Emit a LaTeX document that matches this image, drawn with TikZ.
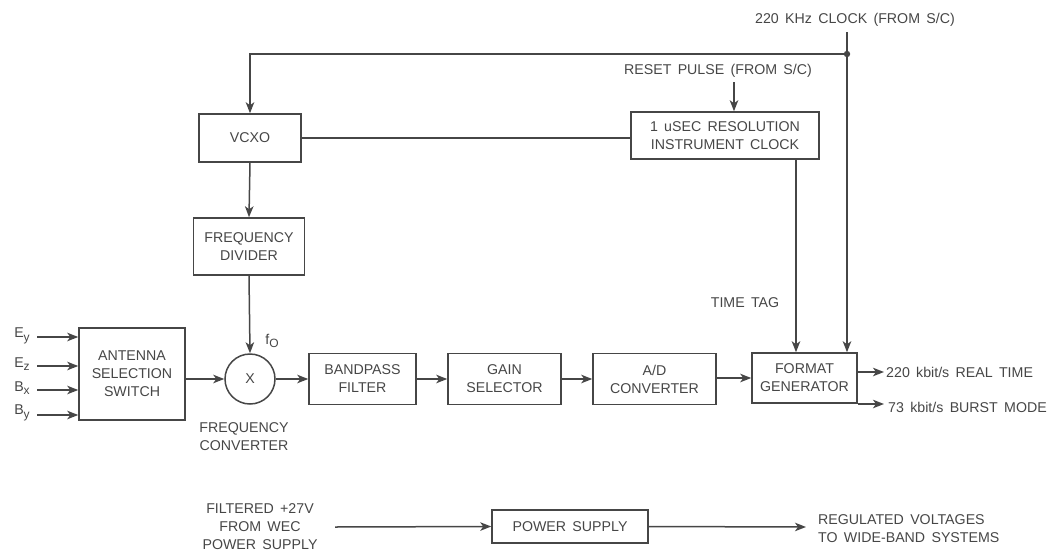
\documentclass[tikz,border=0pt]{standalone}
\usepackage{fontspec}
\setmainfont{Liberation Sans}[WordSpace=1.6]
\usetikzlibrary{arrows.meta,positioning}
\definecolor{ink}{RGB}{70,70,70}
\newcommand{\sbs}[1]{\raisebox{-0.45ex}{\fontsize{12}{12}\selectfont #1}}
\begin{document}
\begin{tikzpicture}[x=1pt,y=-1pt,
  every node/.style={text=ink,font=\fontsize{14.2}{18}\selectfont,inner sep=0pt},
  blk/.style={draw=ink,line width=1.5pt,align=center,minimum width=#1},
  lbl/.style={align=center},
  conn/.style={draw=ink,line width=1.5pt},
  arr/.style={conn,-{Stealth[length=11pt,width=8.5pt,inset=3pt]}}]
\useasboundingbox (0,0) rectangle (1047,552);

% blocks
\node[blk=102pt,minimum height=48pt] (vcxo) at (250,138) {VCXO};
\node[blk=111pt,minimum height=57pt] (fd) at (249,246.5) {FREQUENCY\\DIVIDER};
\node[blk=188pt,minimum height=47pt] (clk) at (725,135.5) {1 uSEC RESOLUTION\\INSTRUMENT CLOCK};
\node[blk=106pt,minimum height=92pt] (sw) at (132,374) {ANTENNA\\SELECTION\\SWITCH};
\node[draw=ink,line width=1.5pt,circle,minimum size=50pt] (mix) at (250,379) {X};
\node[blk=107pt,minimum height=51pt] (bpf) at (362.5,379) {BANDPASS\\FILTER};
\node[blk=113pt,minimum height=51pt] (gain) at (504.5,379) {GAIN\\SELECTOR};
\node[blk=123pt,minimum height=51pt] (adc) at (654.5,379) {A/D\\CONVERTER};
\node[blk=105pt,minimum height=50pt] (fg) at (804.5,378) {FORMAT\\GENERATOR};
\node[blk=156pt,minimum height=33pt] (ps) at (570,526.5) {POWER SUPPLY};

% labels
\node[lbl] (clklbl) at (855,20) {220 KHz CLOCK (FROM S/C)};
\node[lbl] (rstlbl) at (718,71) {RESET PULSE (FROM S/C)};
\node[lbl] (tt) at (745,303) {TIME TAG};
\node[lbl] (f0) at (272,341) {f\sbs{O}};
\node[lbl] (fclbl) at (244,436.5) {FREQUENCY\\CONVERTER};
\node[lbl,anchor=west] (rt) at (886,372) {220 kbit/s REAL TIME};
\node[lbl,anchor=west] (bm) at (888,407) {73 kbit/s BURST MODE};
\node[lbl] (pslbl) at (260,527) {FILTERED +27V\\FROM WEC\\POWER SUPPLY};
\node[lbl,align=left,anchor=west] (reg) at (818,529) {REGULATED VOLTAGES\\TO WIDE-BAND SYSTEMS};

\node[lbl] (ey) at (22,336) {E\sbs{y}};
\node[lbl] (ez) at (22,364) {E\sbs{z}};
\node[lbl] (bx) at (22,388) {B\sbs{x}};
\node[lbl] (by) at (22,413) {B\sbs{y}};

% coordinates
\coordinate (ctop) at (847,32);
\coordinate (cdot) at (847,54);
\coordinate (ccorner) at (250,54);
\coordinate (rtop) at (734,82);
\coordinate (pin) at (335,527);
\coordinate (pout) at (806,527);
\coordinate (iy) at (37,337);
\coordinate (iz) at (37,366);
\coordinate (ix) at (37,390);
\coordinate (iyb) at (37,415);
\coordinate (o1) at (884,372);
\coordinate (o2) at (884,404);

% clock connections
\draw[arr] (ctop) -- (ctop |- fg.north);
\fill[ink] (cdot) circle (3.2pt);
\draw[arr] (cdot) -- (ccorner) -- (vcxo.north);
\draw[arr] (rtop) -- (rtop |- clk.north);
\draw[conn] (vcxo.east) -- (vcxo.east -| clk.west);
\draw[arr] ([xshift=71pt]clk.south) -- ([xshift=71pt]clk.south |- fg.north);

% vertical chain
\draw[arr] (vcxo.south) -- (fd.north);
\draw[arr] (fd.south) -- (mix.north);

% inputs
\draw[arr] (iy) -- (iy -| sw.west);
\draw[arr] (iz) -- (iz -| sw.west);
\draw[arr] (ix) -- (ix -| sw.west);
\draw[arr] (iyb) -- (iyb -| sw.west);

% main chain
\draw[arr] (sw.east |- mix.west) -- (mix.west);
\draw[arr] (mix.east) -- (bpf.west);
\draw[arr] (bpf.east) -- (gain.west);
\draw[arr] (gain.east) -- (adc.west);
\draw[arr] (adc.east |- fg.west) -- (fg.west);

% outputs
\draw[arr] (fg.east |- o1) -- (o1);
\draw[arr] (fg.south east |- o2) -- (o2);

% power
\draw[arr] (pin) -- (ps.west);
\draw[arr] (ps.east) -- (pout);
\end{tikzpicture}
\end{document}
